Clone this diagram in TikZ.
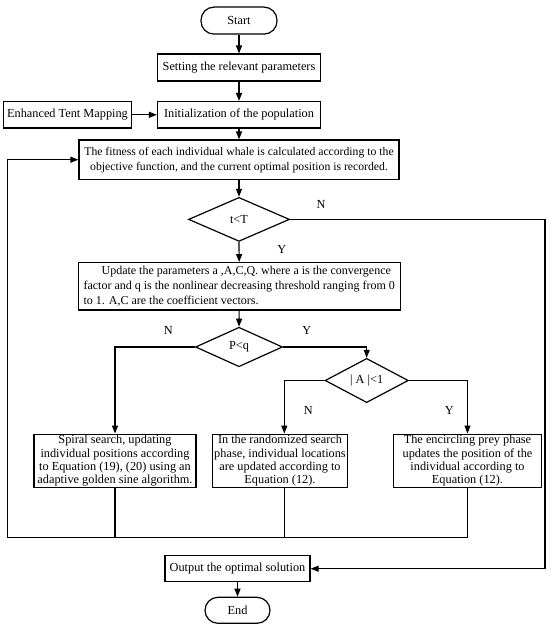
\documentclass[tikz,border=0pt]{standalone}
\usepackage{fontspec}
\setmainfont{Liberation Serif}
\usetikzlibrary{arrows.meta,shapes.geometric}
\begin{document}
\begin{tikzpicture}[x=1pt,y=-1pt,
  every node/.style={font=\fontsize{12.3}{15}\selectfont},
  box/.style={draw,line width=1.2pt,inner sep=1pt,align=center},
  term/.style={draw,line width=1.2pt,rounded corners=13pt,inner sep=1pt},
  dia/.style={draw,diamond,line width=1.2pt,inner sep=0pt},
  conn/.style={line width=1.2pt},
  arr/.style={conn,-{Triangle[length=8pt,width=6pt]}},
  lab/.style={inner sep=0pt},
  low/.style={font=\fontsize{12.3}{13.4}\selectfont}
]
\useasboundingbox (0,0) rectangle (550,628);
\node[term,minimum width=76pt,minimum height=27pt] (start) at (239,20.6) {Start};
\node[box,minimum width=163pt,minimum height=27pt] (set) at (239,67.6) {Setting the relevant parameters};
\node[box,minimum width=163pt,minimum height=26.5pt] (init) at (239,114.8) {Initialization of the population};
\node[box,minimum width=128pt,minimum height=26.5pt] (tent) at (67.5,114.8) {Enhanced Tent Mapping};
\node[box,font=\fontsize{11.7}{15}\selectfont,minimum width=320pt,minimum height=39.3pt] (fit) at (239,159.7) {The fitness of each individual whale is calculated according to the\\objective function, and the current optimal position is recorded.};
\node[dia,minimum width=101pt,minimum height=44pt] (d1) at (239,219.4) {t<T};
\node[box,align=left,font=\fontsize{12}{15}\selectfont,minimum width=322pt,minimum height=47.3pt] (upd) at (239.2,286.3) {\hspace*{1.5em}Update the parameters a ,A,C,Q. where a is the convergence\\factor and q is the nonlinear decreasing threshold ranging from 0\\to 1. A,C are the coefficient vectors.};
\node[dia,minimum width=87pt,minimum height=39.5pt] (d2) at (239,347) {P<q};
\node[dia,minimum width=83.3pt,minimum height=37.7pt] (d3) at (366.7,380.5) {| A |<1};
\node[box,low,minimum width=162pt,minimum height=53pt] (spiral) at (115,460.8) {Spiral search, updating\\individual positions according\\to Equation (19), (20) using an\\adaptive golden sine algorithm.};
\node[box,low,minimum width=135.5pt,minimum height=53pt] (rand) at (280,460.8) {In the randomized search\\phase, individual locations\\are updated according to\\Equation (12).};
\node[box,low,minimum width=147.7pt,minimum height=53pt] (enc) at (467.5,460.8) {The encircling prey phase\\updates the position of the\\individual according to\\Equation (12).};
\node[box,minimum width=145pt,minimum height=26pt] (out) at (237.5,568.7) {Output the optimal solution};
\node[term,minimum width=65pt,minimum height=26pt] (end) at (237.5,610.3) {End};
\coordinate (rc) at (545,219.4);
\coordinate (bl) at (7.3,537.7);
\draw[arr] (start) -- (set);
\draw[arr] (set) -- (init);
\draw[arr] (tent) -- (init);
\draw[arr] (init) -- (fit);
\draw[arr] (fit) -- (d1);
\draw[arr] (d1) -- (upd);
\draw[arr] (upd) -- (d2);
\draw[arr] (d1.east) -- (rc) |- (out.east);
\draw[arr] (d2.west) -| (spiral.north);
\draw[arr] (d2.east) -| (d3.north);
\draw[arr] (d3.west) -| ([xshift=4.3pt]rand.north);
\draw[arr] (d3.east) -| (enc.north);
\draw[conn] (spiral.south) -- (spiral.south |- bl);
\draw[conn] ([xshift=4.3pt]rand.south) -- ([xshift=4.3pt]rand.south |- bl);
\draw[arr] (enc.south) |- (bl) |- (fit.west);
\draw[arr] (out) -- (end);
\node[lab] (n1) at (321,204) {N};
\node[lab] (y1) at (281.7,249) {Y};
\node[lab] (n2) at (168.3,330.7) {N};
\node[lab] (y2) at (306.7,330.7) {Y};
\node[lab] (n3) at (308.3,410) {N};
\node[lab] (y3) at (449.3,410) {Y};
\end{tikzpicture}
\end{document}
